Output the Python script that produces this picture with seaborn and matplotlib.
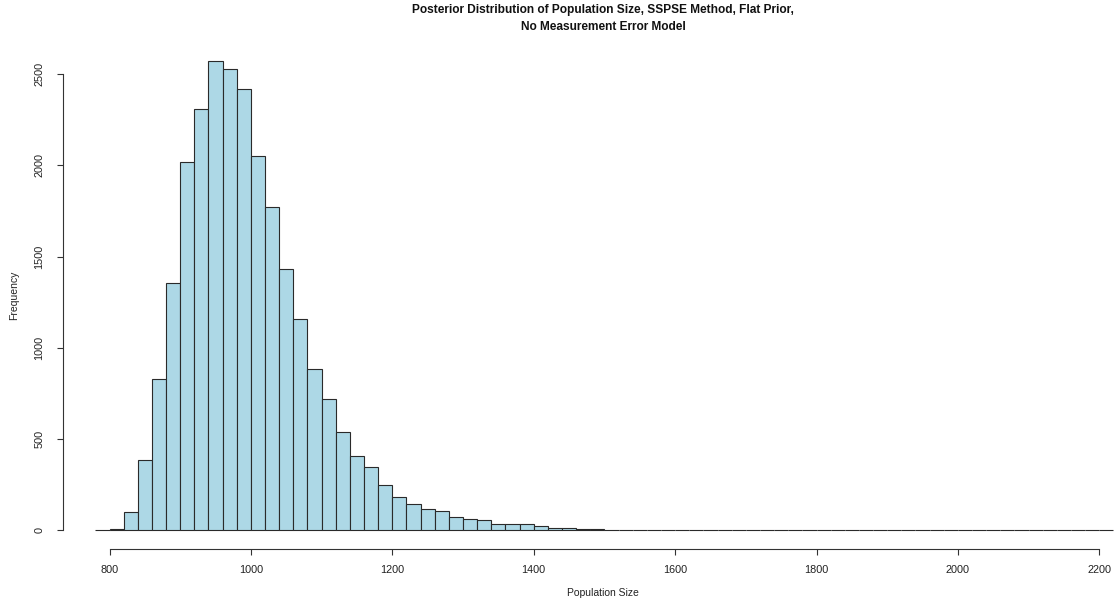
import numpy as np
import pandas as pd
import matplotlib
matplotlib.use("Agg")
import matplotlib.pyplot as plt
import seaborn as sns

# ---- data ----
bin_left = [800, 820, 840, 860, 880, 900, 920, 940, 960, 980,
            1000, 1020, 1040, 1060, 1080, 1100, 1120, 1140, 1160, 1180,
            1200, 1220, 1240, 1260, 1280, 1300, 1320, 1340, 1360, 1380,
            1400, 1420, 1440, 1460, 1480, 1500, 1520, 1540, 1560, 1580,
            2100]
counts = [10, 100, 385, 832, 1355, 2018, 2312, 2570, 2527, 2418,
          2050, 1771, 1432, 1159, 884, 720, 537, 406, 345, 248,
          181, 143, 116, 105, 75, 60, 55, 36, 36, 36,
          24, 12, 15, 6, 6, 3, 3, 3, 0, 4,
          4]
bin_width = 20
break_start, break_end = 780, 2220
x_ticks = [800, 1000, 1200, 1400, 1600, 1800, 2000, 2200]
y_ticks = [0, 500, 1000, 1500, 2000, 2500]
title = "Posterior Distribution of Population Size, SSPSE Method, Flat Prior,\nNo Measurement Error Model"
x_label = "Population Size"
y_label = "Frequency"

df = pd.DataFrame({"x": np.array(bin_left, dtype=float) + bin_width / 2,
                   "w": np.array(counts, dtype=float)})

sns.set_theme(style="white")
plt.rcParams["font.family"] = ["Liberation Sans", "DejaVu Sans"]

W, H = 1116, 604
fig = plt.figure(figsize=(W / 100, H / 100), dpi=100)
left_px, right_px, top_px, bottom_px = 62.7, 1116, 42.7, 549.3
ax = fig.add_axes([left_px / W, 1 - bottom_px / H,
                   (right_px - left_px) / W, (bottom_px - top_px) / H])

sns.histplot(data=df, x="x", weights="w", binwidth=bin_width,
             binrange=(break_start, break_end), ax=ax,
             color="#ADD8E6", edgecolor="#2a2a2a", linewidth=0.8,
             alpha=1.0, stat="count")

# axis scaling to mimic R's layout
ax.set_xlim(733.8, 2223.6)
ax.set_ylim(-104, 2673)

for s in ["top", "right"]:
    ax.spines[s].set_visible(False)
for s in ["left", "bottom"]:
    ax.spines[s].set_visible(True)
    ax.spines[s].set_color("#333333")
    ax.spines[s].set_linewidth(0.8)
ax.spines["left"].set_bounds(0, 2500)
ax.spines["bottom"].set_bounds(800, 2200)

ax.set_xticks(x_ticks)
ax.set_yticks(y_ticks)
ax.set_xticklabels([str(v) for v in x_ticks])
ax.set_yticklabels([str(v) for v in y_ticks], rotation=90, va="center")
ax.tick_params(axis="both", direction="out", length=4.2, width=0.8,
               color="#333333", labelsize=7.8, labelcolor="#222222",
               bottom=True, left=True)
ax.tick_params(axis="x", pad=7)
ax.tick_params(axis="y", pad=9)
ax.set_xlabel("")
ax.set_ylabel("")
ax.grid(False)

fig.text(603 / W, 1 - 593 / H, x_label, ha="center", va="center",
         fontsize=7.5, color="#222222")
fig.text(14 / W, 1 - 295 / H, y_label, ha="center", va="center",
         rotation=90, fontsize=7.5, color="#222222")
fig.text(603 / W, 1 - 18.5 / H, title, ha="center", va="center",
         fontsize=8.6, fontweight="bold", color="#111111", linespacing=1.5)

fig.savefig("out.png", dpi=100)
